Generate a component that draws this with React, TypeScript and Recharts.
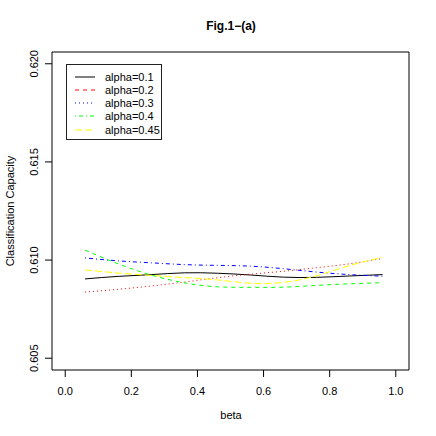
import React from "react";
import { LineChart, Line, XAxis, YAxis, ReferenceArea } from "recharts";

// beta grid and classification capacity per alpha
const betas = [0.06, 0.16, 0.26, 0.36, 0.46, 0.56, 0.66, 0.76, 0.86, 0.96];
const alpha01 = [0.60904, 0.60917, 0.60926, 0.60935, 0.60933, 0.60924, 0.60913, 0.60912, 0.60919, 0.60926];
const alpha02 = [0.60837, 0.60851, 0.60868, 0.60888, 0.6091, 0.60928, 0.60943, 0.60961, 0.60981, 0.61008];
const alpha03 = [0.61011, 0.60996, 0.60986, 0.60977, 0.60973, 0.60969, 0.60956, 0.60939, 0.60926, 0.60918];
const alpha04 = [0.61051, 0.60981, 0.60924, 0.60884, 0.60864, 0.60861, 0.60862, 0.60871, 0.60879, 0.60885];
const alpha045 = [0.6095, 0.60934, 0.60922, 0.60911, 0.60899, 0.60882, 0.60886, 0.6092, 0.60972, 0.61014];

const xTicks = [0, 0.2, 0.4, 0.6, 0.8, 1.0];
const yTicks = [0.605, 0.61, 0.615, 0.62];

const series = [
  { key: "a1", name: "alpha=0.1", values: alpha01, color: "#000000", dash: undefined, legendDash: undefined },
  { key: "a2", name: "alpha=0.2", values: alpha02, color: "#ff0000", dash: "1 3", legendDash: "4 4" },
  { key: "a3", name: "alpha=0.3", values: alpha03, color: "#0000ff", dash: "1 3 4 3", legendDash: "1 3" },
  { key: "a4", name: "alpha=0.4", values: alpha04, color: "#00ff00", dash: "4 4", legendDash: "1 3 4 3" },
  { key: "a5", name: "alpha=0.45", values: alpha045, color: "#ffff00", dash: "7 3", legendDash: "7 3" },
];

const data = betas.map((b, i) => {
  const row: Record<string, number> = { beta: b };
  series.forEach((s) => (row[s.key] = s.values[i]));
  return row;
});

const YTick = (props: any) => {
  const { x, y, payload } = props;
  const tx = x - 5;
  return (
    <text x={tx} y={y} transform={`rotate(-90 ${tx} ${y})`} textAnchor="middle" fontSize={11} fill="#000">
      {payload.value.toFixed(3)}
    </text>
  );
};

const Legend = () => (
  <div
    style={{
      position: "absolute",
      left: 66,
      top: 64,
      width: 96,
      height: 76,
      boxSizing: "border-box",
      border: "1px solid #222",
      background: "#fff",
    }}
  >
    {series.map((s, i) => (
      <div key={s.key} style={{ position: "absolute", left: 0, top: 11.5 + 13.3 * i - 7, height: 14, width: 94 }}>
        <svg width={20} height={14} style={{ position: "absolute", left: 8, top: 0 }}>
          <line x1={0} y1={7} x2={20} y2={7} stroke={s.color} strokeWidth={1} strokeDasharray={s.legendDash} />
        </svg>
        <span style={{ position: "absolute", left: 38, top: 0, fontSize: 11, lineHeight: "14px" }}>{s.name}</span>
      </div>
    ))}
  </div>
);

export default function App() {
  return (
    <div
      style={{
        position: "absolute",
        left: 0,
        top: 0,
        width: 436,
        height: 436,
        background: "#fff",
        fontFamily: "'Liberation Sans', Arial, sans-serif",
        color: "#000",
      }}
    >
      <LineChart width={436} height={436} data={data} margin={{ top: 52, right: 27, bottom: 26, left: 12 }}>
        <XAxis
          dataKey="beta"
          type="number"
          domain={[-0.04, 1.04]}
          ticks={xTicks}
          tickFormatter={(v: number) => v.toFixed(1)}
          height={40}
          tickSize={7}
          tickMargin={10}
          axisLine={false}
          tickLine={{ stroke: "#000" }}
          tick={{ fontSize: 11, fill: "#000" }}
          allowDataOverflow
        />
        <YAxis
          type="number"
          domain={[0.6044, 0.6206]}
          ticks={yTicks}
          width={40}
          tickSize={7}
          tickMargin={2}
          axisLine={false}
          tickLine={{ stroke: "#000" }}
          tick={<YTick />}
          allowDataOverflow
        />
        <ReferenceArea x1={-0.04} x2={1.04} y1={0.6044} y2={0.6206} fill="none" fillOpacity={0} stroke="#000" strokeWidth={1} />
        {series.map((s) => (
          <Line
            key={s.key}
            dataKey={s.key}
            name={s.name}
            type="natural"
            stroke={s.color}
            strokeWidth={1}
            strokeDasharray={s.dash}
            dot={false}
            activeDot={false}
            isAnimationActive={false}
          />
        ))}
      </LineChart>
      <div
        style={{
          position: "absolute",
          left: 181,
          top: 19,
          width: 100,
          textAlign: "center",
          fontSize: 12,
          fontWeight: "bold",
          lineHeight: "14px",
        }}
      >
        Fig.1−(a)
      </div>
      <div style={{ position: "absolute", left: 181, top: 408, width: 100, textAlign: "center", fontSize: 11, lineHeight: "14px" }}>
        beta
      </div>
      <div
        style={{
          position: "absolute",
          left: -90,
          top: 204,
          width: 200,
          textAlign: "center",
          fontSize: 11,
          lineHeight: "14px",
          transform: "rotate(-90deg)",
        }}
      >
        Classification Capacity
      </div>
      <Legend />
    </div>
  );
}
